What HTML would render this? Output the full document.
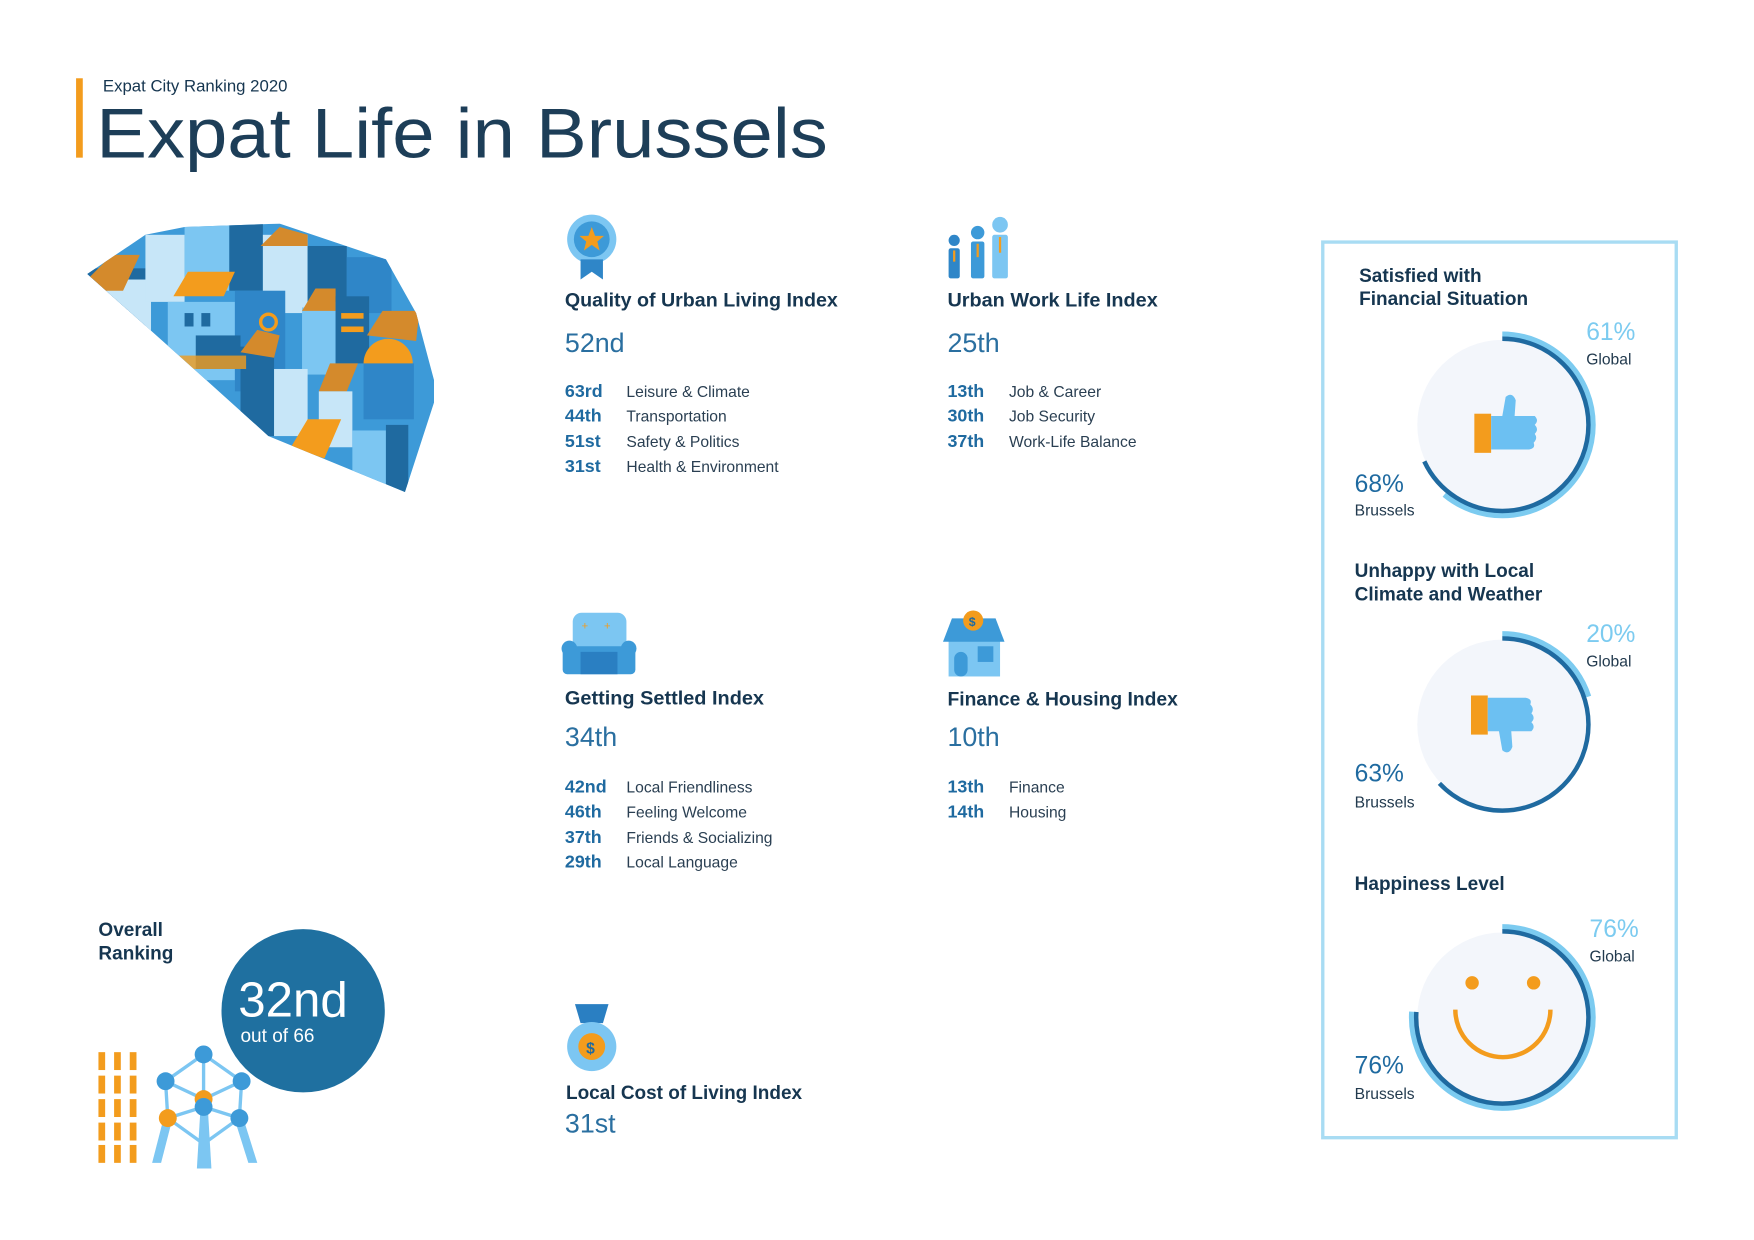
<!DOCTYPE html>
<html><head><meta charset="utf-8"><style>
html,body{margin:0;padding:0;background:#fff;}
svg{display:block;}
text{font-family:"Liberation Sans",sans-serif;}
.t{font-weight:bold;font-size:17px;fill:#163650;}
.big{font-size:24px;fill:#2a6fa0;}
.r{font-weight:bold;font-size:16px;fill:#1f6aa0;}
.l{font-size:14px;fill:#2a3f52;}
.gp{font-size:22px;fill:#7ccbf0;}
.bp{font-size:22px;fill:#1f6aa0;}
.sm{font-size:14px;fill:#223a4e;}
</style></head><body>
<svg width="1754" height="1240" viewBox="0 0 1568 1109" xmlns="http://www.w3.org/2000/svg" preserveAspectRatio="none">
<rect width="1568" height="1109" fill="#fff"/>
<!-- Header -->
<rect x="68" y="70" width="6" height="71" fill="#f39c1d"/>
<text x="92" y="82" font-size="15" fill="#163650">Expat City Ranking 2020</text>
<text x="86" y="141" font-size="63" fill="#1d3e58" textLength="654" lengthAdjust="spacingAndGlyphs">Expat Life in Brussels</text>

<!-- City illustration -->
<defs><clipPath id="cp"><polygon points="78,245 130,210 165,203 250,200 345,232 372,280 388,340 388,360 362,440 240,390 160,318"/></clipPath></defs>
<g clip-path="url(#cp)">
<rect x="70" y="195" width="330" height="250" fill="#3d9ad8"/>
<rect x="70" y="240" width="60" height="120" fill="#1f6aa0"/>
<rect x="95" y="250" width="40" height="80" fill="#c7e6f8"/>
<polygon points="78,250 100,228 125,228 110,260 78,260" fill="#d48a2c"/>
<rect x="130" y="210" width="35" height="60" fill="#c7e6f8"/>
<rect x="165" y="200" width="40" height="60" fill="#7cc6f2"/>
<rect x="205" y="200" width="30" height="60" fill="#1f6aa0"/>
<rect x="235" y="210" width="40" height="70" fill="#c7e6f8"/>
<polygon points="233,220 250,203 275,210 275,220" fill="#d48a2c"/>
<rect x="275" y="220" width="35" height="50" fill="#1f6aa0"/>
<rect x="310" y="230" width="40" height="50" fill="#2f86c8"/>
<rect x="150" y="270" width="60" height="70" fill="#7cc6f2"/>
<polygon points="155,265 168,243 210,243 200,265" fill="#f39c1d"/>
<rect x="165" y="280" width="8" height="12" fill="#1f6aa0"/><rect x="180" y="280" width="8" height="12" fill="#1f6aa0"/>
<rect x="210" y="260" width="45" height="90" fill="#2f86c8"/>
<circle cx="240" cy="288" r="7" fill="none" stroke="#f39c1d" stroke-width="3"/>
<rect x="270" y="275" width="30" height="60" fill="#7cc6f2"/>
<polygon points="270,278 282,258 300,258 300,278" fill="#d48a2c"/>
<rect x="300" y="265" width="30" height="60" fill="#1f6aa0"/>
<rect x="305" y="280" width="20" height="5" fill="#f39c1d"/><rect x="305" y="292" width="20" height="5" fill="#f39c1d"/>
<polygon points="328,300 342,278 375,278 372,305" fill="#d48a2c"/>
<circle cx="347" cy="325" r="22" fill="#f39c1d"/>
<rect x="325" y="325" width="45" height="50" fill="#2f86c8"/>
<rect x="215" y="310" width="30" height="80" fill="#1f6aa0"/>
<polygon points="215,315 230,295 250,300 245,320" fill="#d48a2c"/>
<rect x="245" y="330" width="30" height="60" fill="#c7e6f8"/>
<polygon points="285,350 295,325 320,325 310,350" fill="#d48a2c"/>
<rect x="285" y="350" width="30" height="50" fill="#c7e6f8"/>
<polygon points="260,400 275,375 305,375 290,410" fill="#f39c1d"/>
<rect x="315" y="385" width="30" height="60" fill="#7cc6f2"/>
<rect x="345" y="380" width="20" height="60" fill="#1f6aa0"/>
<rect x="175" y="300" width="40" height="30" fill="#1f6aa0"/>
<rect x="160" y="318" width="60" height="12" fill="#f39c1d" opacity=".8"/>
</g>

<!-- Column 1 -->
<circle cx="529" cy="214" r="22" fill="#7cc6f2"/>
<circle cx="529" cy="214" r="16" fill="#3d9ad8"/>
<polygon points="529,203 532,211 540,211 534,216 536,224 529,219 522,224 524,216 518,211 526,211" fill="#f39c1d"/>
<polygon points="519,232 539,232 539,250 529,243 519,250" fill="#2f86c8"/>
<text class="t" x="505" y="274" textLength="244" lengthAdjust="spacingAndGlyphs">Quality of Urban Living Index</text>
<text class="big" x="505" y="315">52nd</text>
<text class="r" x="505" y="355">63rd</text><text class="l" x="560" y="355">Leisure &amp; Climate</text>
<text class="r" x="505" y="377">44th</text><text class="l" x="560" y="377">Transportation</text>
<text class="r" x="505" y="400">51st</text><text class="l" x="560" y="400">Safety &amp; Politics</text>
<text class="r" x="505" y="422">31st</text><text class="l" x="560" y="422">Health &amp; Environment</text>

<!-- Column 2 -->
<circle cx="853" cy="215" r="5" fill="#2f86c8"/><rect x="848" y="222" width="10" height="27" rx="2" fill="#2f86c8"/>
<circle cx="874" cy="208" r="6" fill="#3d9ad8"/><rect x="868" y="216" width="12" height="33" rx="2" fill="#3d9ad8"/>
<circle cx="894" cy="201" r="7" fill="#7cc6f2"/><rect x="887" y="210" width="14" height="39" rx="2" fill="#7cc6f2"/>
<rect x="852" y="224" width="2" height="10" fill="#f39c1d"/><rect x="873" y="218" width="2" height="12" fill="#f39c1d"/><rect x="893" y="212" width="2" height="14" fill="#f39c1d"/>
<text class="t" x="847" y="274" textLength="188" lengthAdjust="spacingAndGlyphs">Urban Work Life Index</text>
<text class="big" x="847" y="315">25th</text>
<text class="r" x="847" y="355">13th</text><text class="l" x="902" y="355">Job &amp; Career</text>
<text class="r" x="847" y="377">30th</text><text class="l" x="902" y="377">Job Security</text>
<text class="r" x="847" y="400">37th</text><text class="l" x="902" y="400">Work-Life Balance</text>

<!-- Getting Settled -->
<rect x="512" y="548" width="48" height="35" rx="8" fill="#7cc6f2"/>
<circle cx="509" cy="580" r="7" fill="#3d9ad8"/><circle cx="562" cy="580" r="7" fill="#3d9ad8"/>
<rect x="503" y="578" width="65" height="25" rx="4" fill="#3d9ad8"/>
<rect x="519" y="583" width="33" height="20" fill="#2a7fc2"/>
<text x="520" y="563" font-size="10" fill="#f39c1d">+</text><text x="540" y="563" font-size="10" fill="#f39c1d">+</text>
<text class="t" x="505" y="630" textLength="178" lengthAdjust="spacingAndGlyphs">Getting Settled Index</text>
<text class="big" x="505" y="667">34th</text>
<text class="r" x="505" y="709">42nd</text><text class="l" x="560" y="709">Local Friendliness</text>
<text class="r" x="505" y="731">46th</text><text class="l" x="560" y="731">Feeling Welcome</text>
<text class="r" x="505" y="754">37th</text><text class="l" x="560" y="754">Friends &amp; Socializing</text>
<text class="r" x="505" y="776">29th</text><text class="l" x="560" y="776">Local Language</text>

<!-- Finance & Housing -->
<rect x="848" y="570" width="46" height="35" fill="#7cc6f2"/>
<polygon points="843,574 851,553 890,553 898,574" fill="#3d9ad8"/>
<circle cx="870" cy="555" r="9" fill="#f39c1d"/>
<text x="866" y="560" font-size="11" font-weight="bold" fill="#1f6aa0">$</text>
<rect x="853" y="583" width="12" height="22" rx="6" fill="#3d9ad8"/>
<rect x="874" y="578" width="14" height="14" fill="#3d9ad8"/>
<text class="t" x="847" y="631" textLength="206" lengthAdjust="spacingAndGlyphs">Finance &amp; Housing Index</text>
<text class="big" x="847" y="667">10th</text>
<text class="r" x="847" y="709">13th</text><text class="l" x="902" y="709">Finance</text>
<text class="r" x="847" y="731">14th</text><text class="l" x="902" y="731">Housing</text>

<!-- Local Cost -->
<polygon points="514,898 544,898 539,915 519,915" fill="#2a7fc2"/>
<circle cx="529" cy="936" r="22" fill="#7cc6f2"/>
<circle cx="529" cy="936" r="12" fill="#f39c1d"/>
<text x="524" y="942" font-size="14" font-weight="bold" fill="#1f6aa0">$</text>
<text class="t" x="506" y="983" textLength="211" lengthAdjust="spacingAndGlyphs">Local Cost of Living Index</text>
<text class="big" x="505" y="1013">31st</text>

<!-- Overall -->
<text class="t" x="88" y="837">Overall</text>
<text class="t" x="88" y="858">Ranking</text>
<circle cx="271" cy="904" r="73" fill="#1f70a0"/>
<text x="213" y="909" font-size="44" fill="#fff">32nd</text>
<text x="215" y="932" font-size="17" fill="#fff">out of 66</text>
<g fill="#f39c1d">
<rect x="88" y="941" width="6" height="16"/><rect x="102" y="941" width="6" height="16"/><rect x="116" y="941" width="6" height="16"/>
<rect x="88" y="962" width="6" height="16"/><rect x="102" y="962" width="6" height="16"/><rect x="116" y="962" width="6" height="16"/>
<rect x="88" y="983" width="6" height="16"/><rect x="102" y="983" width="6" height="16"/><rect x="116" y="983" width="6" height="16"/>
<rect x="88" y="1004" width="6" height="16"/><rect x="102" y="1004" width="6" height="16"/><rect x="116" y="1004" width="6" height="16"/>
<rect x="88" y="1024" width="6" height="16"/><rect x="102" y="1024" width="6" height="16"/><rect x="116" y="1024" width="6" height="16"/>
</g>
<g stroke="#7cc6f2" stroke-width="3" fill="none">
<path d="M182,943 L148,967 L150,1000 L182,1023 L214,1000 L216,967 Z"/>
<path d="M182,943 L182,990 M148,967 L182,983 L216,967 M150,1000 L182,990 L214,1000"/>
</g>
<polygon points="145,1005 153,1005 144,1040 136,1040" fill="#7cc6f2"/>
<polygon points="211,1005 219,1005 230,1040 222,1040" fill="#7cc6f2"/>
<polygon points="179,995 186,995 189,1045 176,1045" fill="#7cc6f2"/>
<circle cx="182" cy="943" r="8" fill="#3d9ad8"/>
<circle cx="148" cy="967" r="8" fill="#3d9ad8"/>
<circle cx="216" cy="967" r="8" fill="#3d9ad8"/>
<circle cx="182" cy="983" r="8" fill="#f39c1d"/>
<circle cx="150" cy="1000" r="8" fill="#f39c1d"/>
<circle cx="182" cy="990" r="8" fill="#3d9ad8"/>
<circle cx="214" cy="1000" r="8" fill="#3d9ad8"/>

<!-- Right panel -->
<rect x="1182.5" y="216.5" width="316" height="801" fill="none" stroke="#a8dcf3" stroke-width="3"/>

<!-- Gauge 1 -->
<text class="t" x="1215" y="252">Satisfied with</text>
<text class="t" x="1215" y="273">Financial Situation</text>
<circle cx="1343" cy="380" r="76" fill="#f3f6fb"/>
<circle cx="1343" cy="380" r="81" fill="none" stroke="#7ccbf0" stroke-width="5" stroke-dasharray="310.5 1000" transform="rotate(-90 1343 380)"/>
<circle cx="1343" cy="380" r="77" fill="none" stroke="#1f6aa0" stroke-width="4" stroke-dasharray="329 1000" transform="rotate(-90 1343 380)"/>
<text class="gp" x="1418" y="304">61%</text><text class="sm" x="1418" y="326">Global</text>
<text class="bp" x="1211" y="440">68%</text><text class="sm" x="1211" y="461">Brussels</text>
<rect x="1318" y="370" width="15" height="35" fill="#f39c1d"/>
<path d="M1333,372 L1343,372 L1346,355 Q1352,350 1355,358 L1354,372 L1372,372 Q1376,376 1372,380 Q1376,384 1372,388 Q1375,392 1371,396 Q1373,401 1367,402 L1333,402 Z" fill="#6cc0f2"/>

<!-- Gauge 2 -->
<text class="t" x="1211" y="516">Unhappy with Local</text>
<text class="t" x="1211" y="537">Climate and Weather</text>
<circle cx="1343" cy="648" r="76" fill="#f3f6fb"/>
<circle cx="1343" cy="648" r="81" fill="none" stroke="#7ccbf0" stroke-width="5" stroke-dasharray="101.8 1000" transform="rotate(-90 1343 648)"/>
<circle cx="1343" cy="648" r="77" fill="none" stroke="#1f6aa0" stroke-width="4" stroke-dasharray="304.8 1000" transform="rotate(-90 1343 648)"/>
<text class="gp" x="1418" y="574">20%</text><text class="sm" x="1418" y="596">Global</text>
<text class="bp" x="1211" y="699">63%</text><text class="sm" x="1211" y="722">Brussels</text>
<rect x="1315" y="622" width="15" height="35" fill="#f39c1d"/>
<path d="M1330,654 L1340,654 L1343,671 Q1349,676 1352,668 L1351,654 L1369,654 Q1373,650 1369,646 Q1373,642 1369,638 Q1372,634 1368,630 Q1370,625 1364,624 L1330,624 Z" fill="#6cc0f2"/>

<!-- Gauge 3 -->
<text class="t" x="1211" y="796">Happiness Level</text>
<circle cx="1343" cy="910" r="76" fill="#f3f6fb"/>
<circle cx="1343" cy="910" r="81" fill="none" stroke="#7ccbf0" stroke-width="5" stroke-dasharray="386.8 1000" transform="rotate(-90 1343 910)"/>
<circle cx="1343" cy="910" r="77" fill="none" stroke="#1f6aa0" stroke-width="4" stroke-dasharray="367.7 1000" transform="rotate(-90 1343 910)"/>
<text class="gp" x="1421" y="838">76%</text><text class="sm" x="1421" y="860">Global</text>
<text class="bp" x="1211" y="960">76%</text><text class="sm" x="1211" y="983">Brussels</text>
<circle cx="1316" cy="879" r="6" fill="#f39c1d"/>
<circle cx="1371" cy="879" r="6" fill="#f39c1d"/>
<path d="M1301,903 A42,42 0 0 0 1386,903" fill="none" stroke="#f39c1d" stroke-width="4"/>
</svg>
</body></html>
